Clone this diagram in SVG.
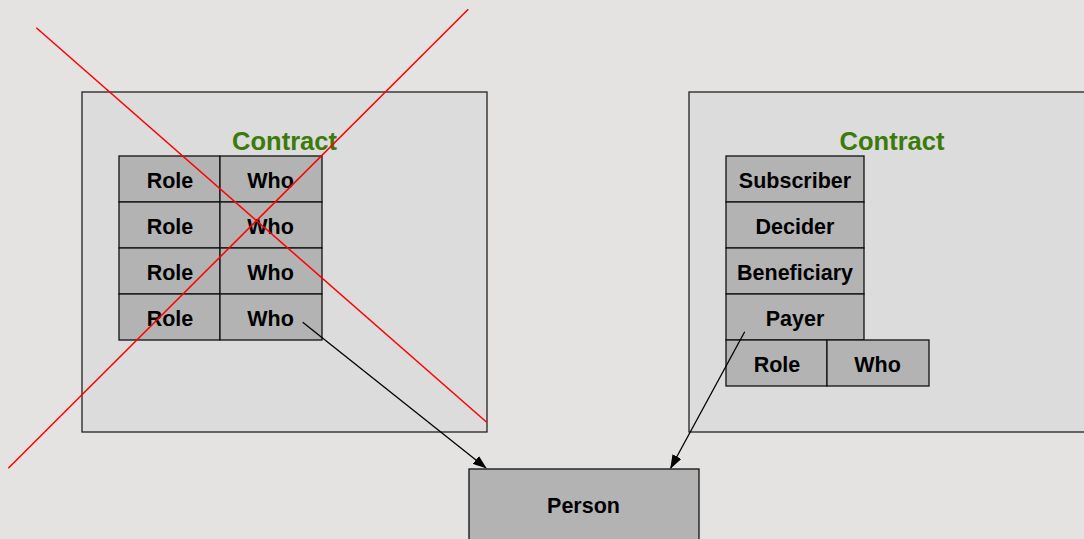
<svg xmlns="http://www.w3.org/2000/svg" width="1084" height="539" viewBox="0 0 1084 539">
  <style>
    .frame { fill: #dcdcdc; stroke: #222; stroke-width: 1.3; }
    .cell { fill: #b3b3b3; stroke: #111; stroke-width: 1.3; }
    .lbl { font-family: "Liberation Sans", Arial, sans-serif; font-weight: bold; font-size: 21.5px; fill: #000; text-anchor: middle; }
    .title { font-family: "Liberation Sans", Arial, sans-serif; font-weight: bold; font-size: 25.5px; fill: #3b7a0b; text-anchor: middle; }
    .link { stroke: #000; stroke-width: 1.3; fill: none; marker-end: url(#arrow); }
    .cross { stroke: #ff0000; stroke-width: 1.5; }
  </style>
  <defs>
    <marker id="arrow" viewBox="0 0 14 10" refX="13" refY="5" markerWidth="14" markerHeight="10" markerUnits="userSpaceOnUse" orient="auto">
      <path d="M0,0 L14,5 L0,10 Z" fill="#000"/>
    </marker>
  </defs>

  <rect width="1084" height="539" fill="#e4e3e1"/>

  <!-- Generic contract: role/who rows -->
  <g id="contract-generic">
    <rect class="frame" x="82" y="92" width="405" height="340"/>
    <text class="title" x="284.5" y="150">Contract</text>
    <rect class="cell" x="119" y="156" width="101" height="46"/>
    <rect class="cell" x="220" y="156" width="102" height="46"/>
    <rect class="cell" x="119" y="202" width="101" height="46"/>
    <rect class="cell" x="220" y="202" width="102" height="46"/>
    <rect class="cell" x="119" y="248" width="101" height="46"/>
    <rect class="cell" x="220" y="248" width="102" height="46"/>
    <rect class="cell" x="119" y="294" width="101" height="46"/>
    <rect class="cell" x="220" y="294" width="102" height="46"/>
    <text class="lbl" x="170" y="188">Role</text>
    <text class="lbl" x="270.5" y="188">Who</text>
    <text class="lbl" x="170" y="234">Role</text>
    <text class="lbl" x="270.5" y="234">Who</text>
    <text class="lbl" x="170" y="280">Role</text>
    <text class="lbl" x="270.5" y="280">Who</text>
    <text class="lbl" x="170" y="326">Role</text>
    <text class="lbl" x="270.5" y="326">Who</text>
  </g>

  <!-- Contract with named roles -->
  <g id="contract-named">
    <rect class="frame" x="689" y="92" width="400" height="340"/>
    <text class="title" x="892" y="150">Contract</text>
    <rect class="cell" x="726" y="156" width="138" height="46"/>
    <rect class="cell" x="726" y="202" width="138" height="46"/>
    <rect class="cell" x="726" y="248" width="138" height="46"/>
    <rect class="cell" x="726" y="294" width="138" height="46"/>
    <rect class="cell" x="726" y="340" width="101" height="46"/>
    <rect class="cell" x="827" y="340" width="102" height="46"/>
    <text class="lbl" x="795" y="188">Subscriber</text>
    <text class="lbl" x="795" y="234">Decider</text>
    <text class="lbl" x="795" y="280">Beneficiary</text>
    <text class="lbl" x="795" y="326">Payer</text>
    <text class="lbl" x="777" y="372">Role</text>
    <text class="lbl" x="877.5" y="372">Who</text>
  </g>

  <g id="person">
    <rect class="cell" x="469" y="469" width="230" height="80"/>
    <text class="lbl" x="583.5" y="513">Person</text>
  </g>

  <g id="connectors">
    <line class="link" x1="302.7" y1="322.3" x2="486" y2="468"/>
    <line class="link" x1="744.7" y1="331.7" x2="670.7" y2="468"/>
  </g>

  <!-- Strike-through over the generic contract -->
  <g id="cross-out">
    <line class="cross" x1="36.3" y1="27.7" x2="486.7" y2="422.3"/>
    <line class="cross" x1="468.3" y1="9.3" x2="8.3" y2="468.3"/>
  </g>
</svg>
